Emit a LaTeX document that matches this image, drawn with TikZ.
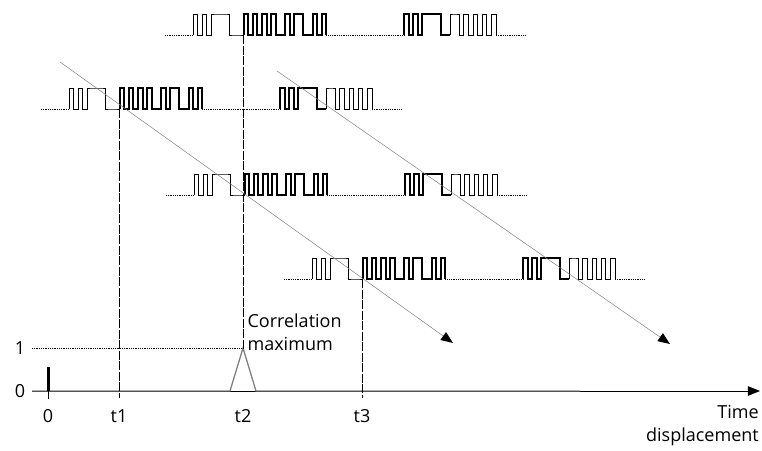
\documentclass[tikz,border=0pt]{standalone}
\usepackage{fontspec}
\setmainfont{Open Sans}
\usetikzlibrary{calc}

\begin{document}
\begin{tikzpicture}[x=1pt,y=-1pt,font=\fontsize{18}{23}\selectfont,
    sig/.style={line width=1pt,line join=miter},
    bold/.style={line width=2pt,line join=miter},
    dots/.style={densely dotted,line width=0.8pt},
    tline/.style={dash pattern=on 9pt off 1.5pt,line width=0.8pt},
    diag/.style={gray,line width=0.5pt}]
  \useasboundingbox (0,0) rectangle (762,450);
  \def\chip{4.6}
  \def\amp{21}
  \def\signal#1#2#3{%
    \path[coordinate] (#1+50,#2) coordinate (#3);
    \draw[dots] (#1-28,#2) -- (#1,#2);
    \draw[sig] (#1,#2) \foreach \v [count=\i from 0] in {1,0,1,0,1,1,1,1,0,0,0}
      {-- ({#1+\i*\chip},{#2-\v*\amp}) -- ({#1+(\i+1)*\chip},{#2-\v*\amp})};
    \draw[bold] (#1+11*\chip,#2) \foreach \v [count=\i from 11] in {1,0,1,0,1,0,1,0,0,1,0,1,1,0,0,1,0,1}
      {-- ({#1+\i*\chip},{#2-\v*\amp}) -- ({#1+(\i+1)*\chip},{#2-\v*\amp})} -- (#1+29*\chip,#2);
    \draw[dots] (#1+29*\chip,#2) -- (#1+211,#2);
    \draw[bold] (#1+211,#2) \foreach \v [count=\i from 0] in {1,0,1,0,1,1,1,1,0,0}
      {-- ({#1+211+\i*\chip},{#2-\v*\amp}) -- ({#1+211+(\i+1)*\chip},{#2-\v*\amp})};
    \draw[sig] (#1+211+10*\chip,#2) \foreach \v [count=\i from 10] in {1,1,0,1,0,1,0,1,0,1}
      {-- ({#1+211+\i*\chip},{#2-\v*\amp}) -- ({#1+211+(\i+1)*\chip},{#2-\v*\amp})} -- (#1+211+20*\chip,#2);
    \draw[dots] (#1+211+20*\chip,#2) -- (#1+332,#2);
  }
  \def\tip#1#2{\fill (#1) -- ($(#1)!13pt!22:(#2)$) -- ($(#1)!13pt!-22:(#2)$) -- cycle;}
  \signal{193}{35}{A}
  \signal{69}{109}{B}
  \signal{194}{195}{C}
  \signal{312}{279}{D}
  \path[coordinate] (32,391) coordinate (L)
    (760,391) coordinate (R)
    (48,391) coordinate (Z)
    (243,348) coordinate (P)
    (119,398) coordinate (X1)
    (362,398) coordinate (X3)
    (32,348) coordinate (Y1);
  \draw[line width=0.8pt] (L) -- ($(R)+(-8,0)$);
  \tip{R}{L}
  \draw[gray,line width=1.3pt] (L) -- (230,391) -- (P) -- (256,391) -- (580,391);
  \draw[line width=3pt] (Z) -- ++(0,-24);
  \draw[line width=0.8pt] (Z) -- ++(0,8);
  \draw[dots] (Y1) -- (P);
  \draw[tline] (B) -- (X1);
  \draw[tline] (A) -- (P);
  \draw[tline] (D) -- (X3);
  \path[coordinate] (60,62) coordinate (S1) (453,343) coordinate (E1)
    (277,71) coordinate (S2) (670,344) coordinate (E2);
  \draw[diag] (S1) -- ($(E1)!6pt!(S1)$);
  \draw[diag] (S2) -- ($(E2)!6pt!(S2)$);
  \tip{E1}{S1}
  \tip{E2}{S2}
  \node (y0) at (20,391) {0};
  \node (y1) at (20,348) {1};
  \node (l0) at (48,416) {0};
  \node (l1) at (119,416) {t1};
  \node (l2) at (243,416) {t2};
  \node (l3) at (362,416) {t3};
  \node[anchor=west,align=left] (cm) at (244,332) {Correlation\\maximum};
  \node[anchor=north east,align=right,inner sep=1pt] (td) at (760,404) {Time\\displacement};
\end{tikzpicture}
\end{document}
